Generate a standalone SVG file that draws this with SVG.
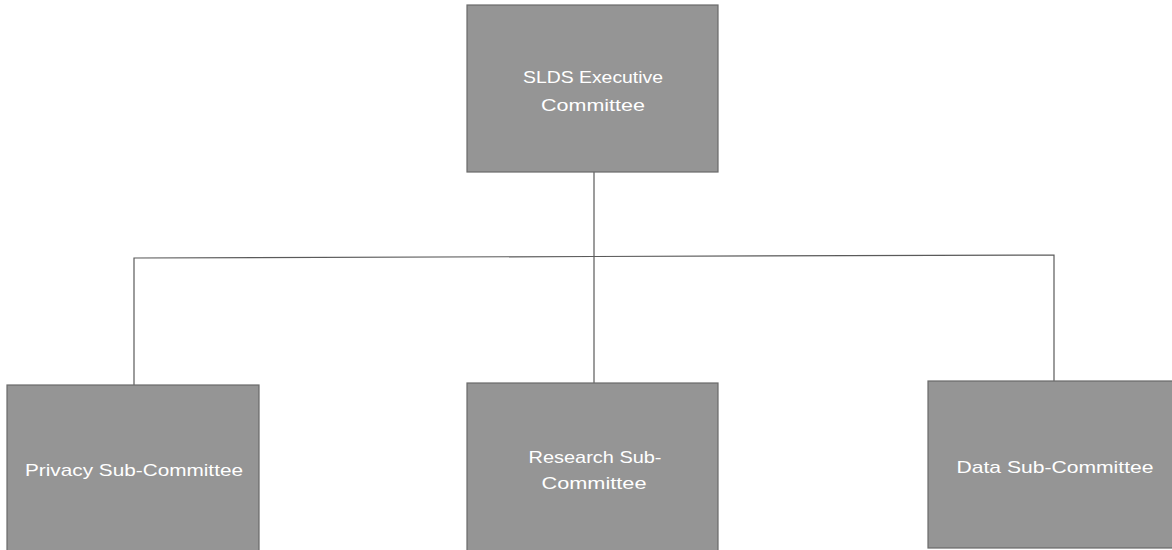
<svg xmlns="http://www.w3.org/2000/svg" width="1172" height="550" viewBox="0 0 1172 550">
<style>
.box{fill:#959595;stroke:#6a6a6a;stroke-width:1.2}
.lbl{font-family:"Liberation Sans",Arial,sans-serif;font-size:17px;fill:#ffffff;text-anchor:middle}
.conn{stroke:#5a5a5a;stroke-width:1.2;fill:none}
</style>
<rect width="1172" height="550" fill="#ffffff"/>
<g id="connectors">
<line class="conn" x1="594" y1="172" x2="594" y2="383"/>
<polyline class="conn" points="134,385 134,258 594,256.5 1054,255 1054,381"/>
</g>
<g id="node-exec">
<rect class="box" x="467" y="5" width="251" height="167"/>
<text class="lbl" x="593" y="83" textLength="140" lengthAdjust="spacingAndGlyphs">SLDS Executive</text>
<text class="lbl" x="593" y="111" textLength="104" lengthAdjust="spacingAndGlyphs">Committee</text>
</g>
<g id="node-privacy">
<rect class="box" x="7" y="385" width="252" height="170"/>
<text class="lbl" x="134" y="476" textLength="218" lengthAdjust="spacingAndGlyphs">Privacy Sub-Committee</text>
</g>
<g id="node-research">
<rect class="box" x="467" y="383" width="251" height="172"/>
<text class="lbl" x="595" y="463" textLength="133" lengthAdjust="spacingAndGlyphs">Research Sub-</text>
<text class="lbl" x="594" y="489" textLength="105" lengthAdjust="spacingAndGlyphs">Committee</text>
</g>
<g id="node-data">
<rect class="box" x="928" y="381" width="251" height="167"/>
<text class="lbl" x="1055" y="473" textLength="197" lengthAdjust="spacingAndGlyphs">Data Sub-Committee</text>
</g>
</svg>
